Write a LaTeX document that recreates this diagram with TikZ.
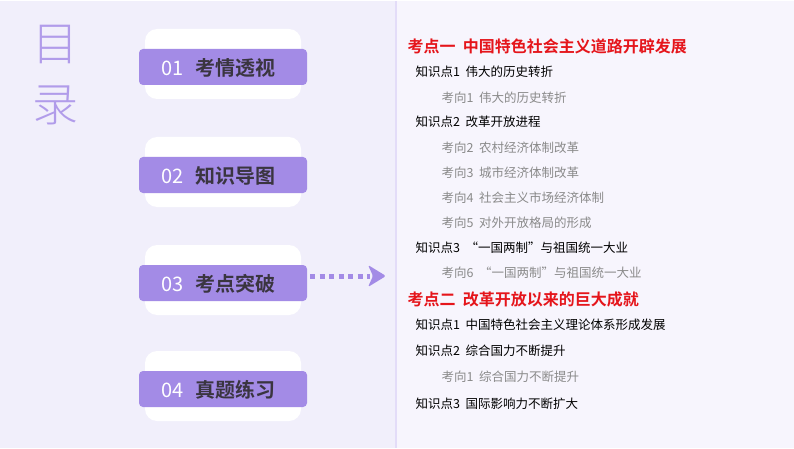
\documentclass[tikz,border=0pt]{standalone}
\usepackage{fontspec}
\newfontfamily\cjk{Noto Sans CJK SC}
\newfontfamily\cjkb{Noto Sans CJK SC Bold}
\newfontfamily\cjkl{Noto Sans CJK SC Light}
\definecolor{bg}{HTML}{F1EFFB}
\definecolor{pur}{HTML}{A38BE6}
\definecolor{redt}{HTML}{E5151B}
\definecolor{dark}{HTML}{3A3540}
\definecolor{grayt}{HTML}{8A8A8A}
\tikzset{
 band/.style={fill=pur,rounded corners=4pt,minimum width=168pt,minimum height=36pt},
 card/.style={fill=white,rounded corners=12pt,minimum width=156pt,minimum height=70pt},
 title/.style={anchor=west,text=redt,font=\cjkb\fontsize{16}{16}\selectfont},
 kd/.style={anchor=west,text=black,font=\cjk\fontsize{12.5}{13}\selectfont},
 kx/.style={anchor=west,text=grayt,font=\cjk\fontsize{12.5}{13}\selectfont}
}
\begin{document}
\begin{tikzpicture}[x=1pt,y=-1pt]
\fill[bg] (0,0) rectangle (794,447);
\fill[white!40!bg] (397,0) rectangle (794,447);
\draw[pur!30,line width=2pt] (396,0) -- (396,447);
\node[text=pur!85,font=\cjkl\fontsize{46}{46}\selectfont] (mu) at (55,43) {目};
\node[text=pur!85,font=\cjkl\fontsize{46}{46}\selectfont] (lu) at (55,104) {录};
\foreach \i/\y/\n/\t in {1/66/01/考情透视,2/174/02/知识导图,3/282/03/考点突破,4/388/04/真题练习}{
 \node[card] (c\i) at (223,\y-3) {};
 \node[band] (b\i) at (223,\y) {};
 \node[anchor=west,text=white,font=\cjk\fontsize{20}{20}\selectfont] (n\i) at (158,\y+1) {\n};
 \node[anchor=west,text=dark,font=\cjkb\fontsize{20}{20}\selectfont] (t\i) at (192,\y+1) {\t};
}
\coordinate (ae) at (386,275);
\draw[pur,line width=5pt,dash pattern=on 5pt off 4.5pt] (b3.east)++(3,-7) coordinate (as) -- (370,275);
\fill[pur,rounded corners=1.5pt] (368,264) -- (ae) -- (368,286) -- (373,275) -- cycle;
\node[title] (h1) at (404,45) {考点一\ \ 中国特色社会主义道路开辟发展};
\node[kd] (a1) at (412,71) {知识点1\ \ 伟大的历史转折};
\node[kx] (a2) at (438,97) {考向1\ \ 伟大的历史转折};
\node[kd] (a3) at (412,121) {知识点2\ \ 改革开放进程};
\node[kx] (a4) at (438,147) {考向2\ \ 农村经济体制改革};
\node[kx] (a5) at (438,172) {考向3\ \ 城市经济体制改革};
\node[kx] (a6) at (438,197) {考向4\ \ 社会主义市场经济体制};
\node[kx] (a7) at (438,222) {考向5\ \ 对外开放格局的形成};
\node[kd] (a8) at (412,247) {知识点3\ \ “一国两制”与祖国统一大业};
\node[kx] (a9) at (438,272) {考向6\ \ “一国两制”与祖国统一大业};
\node[title] (h2) at (404,298) {考点二\ \ 改革开放以来的巨大成就};
\node[kd] (d1) at (412,324) {知识点1\ \ 中国特色社会主义理论体系形成发展};
\node[kd] (d2) at (412,350) {知识点2\ \ 综合国力不断提升};
\node[kx] (d3) at (438,376) {考向1\ \ 综合国力不断提升};
\node[kd] (d4) at (412,403) {知识点3\ \ 国际影响力不断扩大};
\end{tikzpicture}
\end{document}
